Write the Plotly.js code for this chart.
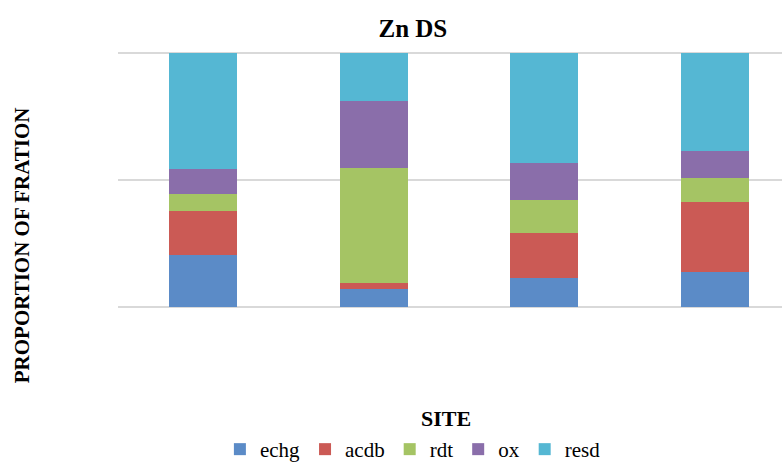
<!DOCTYPE html>
<html>
<head>
<meta charset="utf-8">
<script src="https://cdn.plot.ly/plotly-3.0.1.min.js"></script>
<style>html,body{margin:0;padding:0;background:#fff;}#chart{width:782px;height:470px;}</style>
</head>
<body>
<div id="chart"></div>
<script>
var sites = ['S1', 'S2', 'S3', 'S4'];
var echg = [0.206, 0.069, 0.113, 0.139];
var acdb = [0.171, 0.024, 0.178, 0.274];
var rdt  = [0.067, 0.454, 0.131, 0.094];
var ox   = [0.100, 0.265, 0.143, 0.107];
var resd = [0.456, 0.188, 0.435, 0.386];
var seriesNames = ['echg', 'acdb', 'rdt', 'ox', 'resd'];
var seriesValues = [echg, acdb, rdt, ox, resd];
var colors = ['#5B8BC7', '#CB5A55', '#A5C464', '#8A6EAA', '#55B7D3'];

var traces = seriesNames.map(function (n, i) {
  return {
    type: 'bar', name: n, x: sites, y: seriesValues[i], width: 0.4,
    marker: { color: colors[i], line: { width: 0 } },
    hoverinfo: 'x+y+name'
  };
});

var serif = "'Liberation Serif', serif";
var layout = {
  width: 782, height: 470,
  margin: { l: 118, r: 0, t: 51.5, b: 161.5, pad: 0, autoexpand: false },
  barmode: 'stack',
  paper_bgcolor: '#fff', plot_bgcolor: '#fff',
  title: { text: '<b>Zn DS</b>', font: { family: serif, size: 25, color: '#000' },
           x: 0.528, xanchor: 'center', y: 0.94, yanchor: 'middle' },
  xaxis: { type: 'category', range: [-0.5, 3.394], showticklabels: false, showgrid: false,
           zeroline: false, showline: false, ticks: '' },
  yaxis: { range: [-0.004, 1.004], tickvals: [0, 0.5, 1], showticklabels: false, showgrid: true,
           gridcolor: '#d9d9d9', gridwidth: 1.5, zeroline: false, showline: false, ticks: '' },
  showlegend: true,
  legend: { orientation: 'h', xref: 'container', yref: 'container', x: 0.528, xanchor: 'center',
            y: -0.008, yanchor: 'bottom',
            font: { family: serif, size: 21, color: '#000' }, traceorder: 'normal',
            itemwidth: 30, tracegroupgap: 0 },
  annotations: [
    { text: '<b>SITE</b>', xref: 'paper', yref: 'paper', x: 0.494, y: -0.433,
      xanchor: 'center', yanchor: 'middle', showarrow: false,
      font: { family: serif, size: 22, color: '#000' } },
    { text: '<b>PROPORTION OF FRATION</b>', xref: 'paper', yref: 'paper', x: -0.1446, y: 0.245,
      xanchor: 'center', yanchor: 'middle', textangle: -90, showarrow: false,
      font: { family: serif, size: 21, color: '#000' } }
  ]
};
Plotly.newPlot('chart', traces, layout, { displayModeBar: false, staticPlot: true });
</script>
</body>
</html>
